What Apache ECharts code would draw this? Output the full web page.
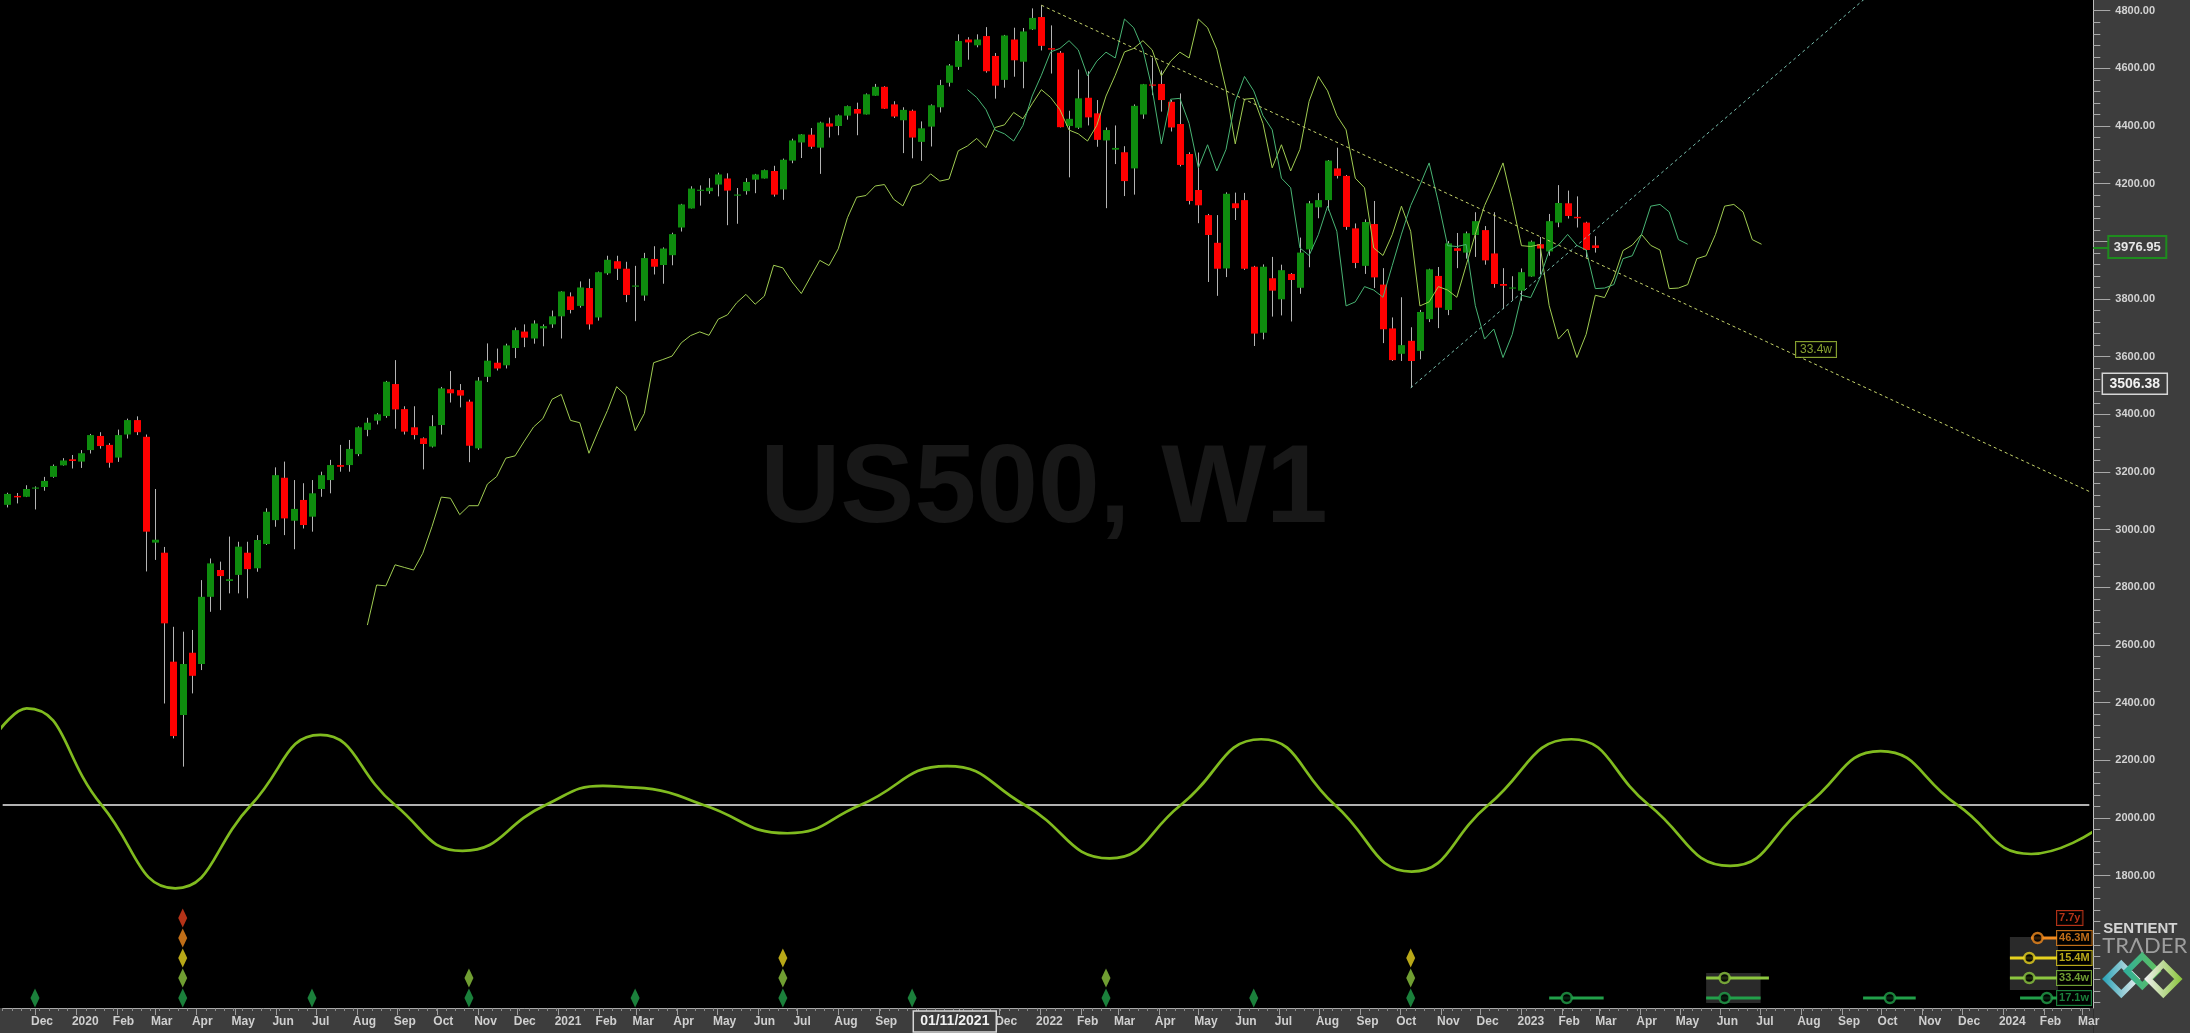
<!DOCTYPE html>
<html><head><meta charset="utf-8">
<script src="https://cdn.jsdelivr.net/npm/echarts@6/dist/echarts.min.js"></script>
<style>html,body{margin:0;padding:0;background:#000;}#c{width:2190px;height:1033px;}</style>
</head><body><div id="c"></div>
<script>
// ---------------- DATA ----------------
const firstWeek = Date.UTC(2019, 10, 10);   // first weekly bar (Sunday)
const weekCount = 226;                       // bars incl. projection area

const opens = [3086,3117,3114,3144,3148,3183,3223,3244,3236,3276,
3325,3294,3250,3330,3380,3322,2955,2920,2542,2357,
2573,2534,2767,2860,2822,2843,2920,2866,2950,3033,
3180,3031,3103,3045,3141,3172,3224,3224,3262,3346,
3378,3394,3505,3418,3355,3317,3288,3363,3487,3484,
3444,3282,3530,3579,3570,3630,3687,3663,3698,3712,
3740,3809,3776,3838,3736,3889,3931,3905,3842,3812,
3939,3918,3952,4048,4114,4175,4174,4197,4218,4158,
4174,4214,4218,4244,4180,4280,4343,4370,4325,4409,
4400,4436,4459,4440,4505,4536,4475,4420,4453,4345,
4398,4465,4550,4605,4700,4680,4712,4643,4560,4700,
4623,4735,4778,4670,4654,4400,4394,4498,4444,4350,
4318,4309,4253,4440,4542,4546,4484,4407,4303,4178,
4091,3995,3906,4132,4143,3912,3683,3872,3799,3887,
3839,3972,4118,4143,4253,4227,4045,3915,4060,3850,
3698,3610,3655,3620,3730,3880,3762,3976,3961,4022,
4039,3958,3852,3836,3829,3878,3990,3965,4065,4132,
4085,4065,3986];
const closes = [3124,3112,3141,3146,3169,3221,3240,3238,3265,3328,
3290,3232,3328,3380,3338,2993,2965,2675,2284,2534,
2493,2767,2883,2839,2828,2941,2863,2964,3062,3189,
3039,3072,3016,3126,3189,3224,3218,3280,3355,3371,
3400,3513,3417,3340,3328,3297,3359,3490,3473,3465,
3291,3517,3586,3559,3639,3692,3666,3715,3706,3740,
3826,3762,3840,3712,3893,3936,3905,3814,3845,3942,
3912,3975,4025,4128,4183,4179,4186,4232,4176,4161,
4206,4232,4247,4162,4283,4350,4371,4328,4412,4398,
4437,4469,4443,4510,4536,4460,4433,4456,4360,4392,
4472,4542,4610,4695,4690,4700,4590,4540,4714,4628,
4728,4775,4678,4665,4396,4425,4496,4430,4352,4386,
4324,4209,4470,4545,4540,4490,4395,4265,4140,4125,
4022,3905,4165,4115,3905,3680,3912,3829,3900,3866,
3961,4132,4143,4280,4227,4050,3925,4067,3875,3695,
3588,3640,3585,3755,3903,3770,3993,3967,4028,4070,
3934,3852,3846,3840,3893,3999,3975,4070,4133,4088,
4080,3970,3977];
const lows = [3077,3091,3113,3070,3135,3180,3222,3212,3214,3264,
3281,3215,3235,3316,3328,2855,2895,2397,2276,2178,
2432,2513,2715,2721,2779,2779,2762,2854,2947,3010,
2981,2932,3004,2993,3114,3126,3201,3201,3255,3324,
3365,3388,3350,3330,3313,3209,3285,3330,3441,3424,
3234,3277,3512,3552,3559,3595,3633,3645,3636,3700,
3663,3750,3770,3694,3725,3884,3866,3789,3723,3794,
3885,3853,3917,4034,4114,4124,4165,4156,4056,4061,
4162,4167,4218,4155,4144,4271,4289,4321,4234,4360,
4368,4422,4368,4440,4505,4459,4428,4306,4288,4279,
4329,4447,4537,4595,4630,4673,4585,4495,4533,4571,
4531,4733,4662,4582,4395,4222,4390,4402,4328,4115,
4268,4157,4162,4425,4507,4450,4381,4260,4128,4063,
3859,3811,3876,4074,3901,3637,3660,3739,3743,3722,
3818,3910,4080,4107,4218,4040,3907,3887,3838,3647,
3585,3585,3492,3591,3720,3699,3744,3907,3940,3946,
3919,3839,3765,3797,3794,3877,3885,3950,4049,4079,
4048,3944,3961];
const highs = [3128,3127,3154,3150,3183,3226,3248,3259,3276,3332,
3338,3300,3347,3385,3393,3330,3141,2940,2663,2646,
2652,2825,2900,2889,2976,2958,2958,2981,3074,3216,
3236,3172,3161,3172,3201,3242,3294,3311,3358,3388,
3404,3516,3588,3428,3428,3320,3397,3495,3550,3505,
3451,3529,3646,3628,3645,3701,3712,3726,3712,3760,
3827,3823,3861,3870,3895,3950,3950,3929,3915,3960,
3983,3979,4030,4130,4191,4194,4219,4238,4236,4185,
4219,4234,4249,4262,4287,4356,4372,4393,4415,4429,
4440,4471,4481,4513,4546,4538,4486,4465,4457,4416,
4475,4560,4615,4718,4708,4718,4743,4653,4716,4741,
4740,4808,4819,4749,4660,4453,4596,4590,4490,4395,
4402,4330,4475,4546,4637,4593,4490,4513,4309,4308,
4095,4091,4170,4169,4168,3915,3920,3946,3919,3890,
4013,4140,4167,4282,4325,4230,4062,4076,4140,3907,
3736,3806,3702,3762,3905,3911,4001,4029,4034,4101,
4053,4101,3907,3879,3906,4003,4015,4095,4195,4176,
4156,4068,4018];

// FLD lines (displaced median price)
const fldMedian = [2669,2808,2805,2878,2869,2860,2918,3011,3113,3109,
3052,3083,3083,3158,3184,3248,3256,3307,3356,3385,
3452,3469,3379,3371,3265,3341,3413,3496,3465,3343,
3403,3579,3590,3602,3648,3673,3686,3674,3730,3745,
3787,3816,3782,3810,3917,3908,3859,3819,3877,3934,
3916,3974,4082,4153,4159,4192,4197,4146,4123,4191,
4201,4234,4209,4216,4314,4331,4357,4325,4395,4404,
4447,4425,4477,4526,4499,4457,4386,4373,4348,4402,
4504,4576,4657,4669,4696,4664,4574,4625,4656,4636,
4771,4741,4666,4528,4338,4493,4496,4409,4255,4335,
4244,4319,4486,4572,4522,4436,4387,4219,4186,3977,
3951,4023,4122,4035,3776,3790,3843,3831,3806,3916,
4025,4124,4195,4272,4135,3985,3982,3989,3777,3661,
3696,3597,3677,3813,3805,3873,3968,3987,4024,3986,
3970,3836,3838,3850,3940,3950,4023,4122,4128,4102,
4006,3990];
const fld33Start = 39;   // week where the 33.4w FLD begins
const fld17Start = 104;  // week where the 17.1w FLD begins
const fld17Skip = 73;    // first fldMedian entry used by the 17.1w FLD

// Cycle oscillator (bottom)
const oscWeeks  = [-0.8,2.1,10.2,18.2,26.4,33.9,42.0,49.3,58.3,64.5,67.0,69.9,75.4,84.5,92.4,101.8,110.2,119.4,127.1,135.8,143.8,152.1,160.4,169.4,177.8,186.6,194.9,202.9,211.2,219.2,225.9];
const oscValues = [2307,2380,2045,1756,2045,2288,2045,1886,2045,2111,2107,2100,2045,1947,2045,2180,2045,1860,2045,2273,2045,1814,2045,2273,2045,1834,2045,2232,2045,1875,1952];
const oscZero = 2045;

// Trend lines
const trendDownWeeks = [112, 226], trendDownValues = [4819, 3125];
const trendUpWeeks = [152, 202], trendUpValues = [3492, 4864];

// Cycle trough markers (diamonds)
const troughWeeks = [3,19,33,50,68,84,98,119,135,152];
const troughDepth = [1,5,1,2,1,3,1,2,1,3];

// Cycle names / colours
const cycleNames  = ['17.1w','33.4w','15.4M','46.3M','7.7y'];
const cycleColors = ['#22a04a','#8cc63f','#e6d21e','#f08a1e','#e2401e'];
// Phasing projections (week ranges and circle weeks) per cycle level
const phaseSegs = [
  [[167.0,172.9],[184.0,189.9],[201.0,206.7],[218.0,222.0]],
  [[184.0,190.8],[216.9,222.0]],
  [[216.9,222.0]],
  [[219.2,222.0]],
  []
];
const phaseCircles = [[168.9,186.0,203.9,220.9],[186.0,219.0],[219.0],[219.9],[]];
const cycleLabelWeek = 222.0;
const fldLabel = {week:195.9, value:3625, text:'33.4w'};

// Axis tick labels
const priceTicks = [1800,2000,2200,2400,2600,2800,3000,3200,3400,3600,3800,4000,4200,4400,4600,4800];
const monthLabels = ['Dec','2020','Feb','Mar','Apr','May','Jun','Jul','Aug','Sep','Oct','Nov','Dec',
'2021','Feb','Mar','Apr','May','Jun','Jul','Aug','Sep','','','Dec',
'2022','Feb','Mar','Apr','May','Jun','Jul','Aug','Sep','Oct','Nov','Dec',
'2023','Feb','Mar','Apr','May','Jun','Jul','Aug','Sep','Oct','Nov','Dec',
'2024','Feb','Mar'];
const currentPrice = 3976.95;
const cursorPrice = 3506.38;
const cursorWeek = 103;
const cursorDate = '01/11/2021';
const symbolTitle = 'US500, W1';

// ---------------- BUILD ----------------
const yMin = 1340.8, yMax = 4837.1;
const DAY = 86400000;
const weekCats = [];
for (let i = 0; i < weekCount; i++) { const d = new Date(firstWeek + i*7*DAY); weekCats.push(d.toISOString().slice(0,10)); }
const candleData = opens.map((o,i)=>[i,o,closes[i],lows[i],highs[i]]);
const monthTickPos = [], monthLabelPos = [], labelMap = {};
monthLabels.forEach((t,k)=>{
  const w = (Date.UTC(2019, 11 + k, 1) - firstWeek) / (7*DAY);
  monthTickPos.push(w);
  const p = +(w - 0.43).toFixed(4);
  monthLabelPos.push(p); labelMap[p.toFixed(4)] = t;
});
const minorTicks = []; for (let v = 1360; v <= 4800; v += 40) minorTicks.push(v);

const fld33 = fldMedian.map((v,k)=>[fld33Start + k, v]);
const fld17 = fldMedian.slice(fld17Skip).map((v,k)=>[fld17Start + k, v]);
const osc = oscWeeks.map((w,i)=>[w, oscValues[i]]);

const BULL = '#0e8c0e', BEAR = '#ff0000', WICK = '#b4b4b4';
const series = [];
series.push({
  type:'custom', name:'price', xAxisIndex:0, yAxisIndex:0, z:2, clip:true,
  data: candleData, encode:{x:0, y:[1,2,3,4]},
  renderItem(params, api){
    const i = api.value(0), o = api.value(1), c = api.value(2), l = api.value(3), h = api.value(4);
    const pO = api.coord([i,o]), pC = api.coord([i,c]), pL = api.coord([i,l]), pH = api.coord([i,h]);
    const x = Math.round(pO[0]);
    const bw = 7;
    let top = Math.min(pO[1],pC[1]), bot = Math.max(pO[1],pC[1]);
    if (bot - top < 1) { top = Math.round(top) - 0.5; bot = top + 1.2; }
    const col = c >= o ? BULL : BEAR;
    return {type:'group', children:[
      {type:'line', shape:{x1:x+0.5, y1:pH[1], x2:x+0.5, y2:pL[1]}, style:{stroke:WICK, lineWidth:1}},
      {type:'rect', shape:{x:x-3, y:top, width:bw, height:bot-top}, style:{fill:col}}
    ]};
  }
});
const lineBase = {type:'line', xAxisIndex:1, showSymbol:false, symbol:'none', clip:true, silent:true};
series.push(Object.assign({}, lineBase, {yAxisIndex:0, z:3, data:fld33, lineStyle:{color:'#a0cc52', width:1}}));
series.push(Object.assign({}, lineBase, {yAxisIndex:0, z:3, data:fld17, lineStyle:{color:'#48b474', width:1}}));
series.push(Object.assign({}, lineBase, {yAxisIndex:0, z:3, data:trendDownWeeks.map((w,i)=>[w,trendDownValues[i]]), lineStyle:{color:'#c6d46c', width:1, type:[3,3]}}));
series.push(Object.assign({}, lineBase, {yAxisIndex:0, z:3, data:trendUpWeeks.map((w,i)=>[w,trendUpValues[i]]), lineStyle:{color:'#78bfae', width:1, type:[3,3]}}));
series.push(Object.assign({}, lineBase, {yAxisIndex:0, z:3, data:[[-0.5,oscZero],[weekCount-0.5,oscZero]], lineStyle:{color:'#ececec', width:1.5}}));
series.push(Object.assign({}, lineBase, {yAxisIndex:0, z:4, data:osc, smooth:0.5, lineStyle:{color:'#80bb1f', width:2.7}}));
// highlight boxes behind phasing
series.push(Object.assign({}, lineBase, {yAxisIndex:2, z:1, data:[], markArea:{silent:true, itemStyle:{color:'#2a2a2a'}, data:[
  [{xAxis:184.0, yAxis:0.25},{xAxis:189.9, yAxis:1.75}],
  [{xAxis:216.9, yAxis:0.9},{xAxis:222.1, yAxis:3.55}]
]}}));
// diamonds
for (let lvl = 0; lvl < 5; lvl++) {
  series.push({type:'scatter', xAxisIndex:1, yAxisIndex:2, z:5, silent:true, symbol:'diamond', symbolSize:[9,19],
    itemStyle:{color:cycleColors[lvl]},
    data: troughWeeks.filter((w,i)=>troughDepth[i] > lvl).map(w=>[w, 0.5 + lvl])});
}
// phasing segments, circles and legend boxes
for (let lvl = 0; lvl < 5; lvl++) {
  phaseSegs[lvl].forEach(s=>{
    series.push(Object.assign({}, lineBase, {yAxisIndex:2, z:5, data:[[s[0],0.5+lvl],[s[1],0.5+lvl]], lineStyle:{color:cycleColors[lvl], width:3}}));
  });
  if (phaseCircles[lvl].length) series.push({type:'scatter', xAxisIndex:1, yAxisIndex:2, z:6, silent:true, symbol:'circle', symbolSize:10,
    itemStyle:{color:'#000', borderColor:cycleColors[lvl], borderWidth:2.5},
    data: phaseCircles[lvl].map(w=>[w, 0.5+lvl])});
  series.push({type:'scatter', xAxisIndex:1, yAxisIndex:2, z:7, silent:true, symbolSize:0.1, itemStyle:{color:'rgba(0,0,0,0)'},
    data:[[cycleLabelWeek, 0.5+lvl]],
    label:{show:true, position:'right', distance:0, formatter:cycleNames[lvl], color:cycleColors[lvl], fontSize:11, fontWeight:'bold',
      fontFamily:'Liberation Sans, Arial, sans-serif', backgroundColor:'#000', borderColor:cycleColors[lvl], borderWidth:1, padding:[2,2,1,2]}});
}
series.push({type:'scatter', xAxisIndex:1, yAxisIndex:0, z:7, silent:true, symbolSize:0.1, itemStyle:{color:'rgba(0,0,0,0)'},
  data:[[fldLabel.week, fldLabel.value]],
  label:{show:true, position:'inside', formatter:fldLabel.text, color:'#a8c83c', fontSize:12, fontFamily:'Liberation Sans, Arial, sans-serif',
    backgroundColor:'#000', borderColor:'#a8c83c', borderWidth:1, padding:[2,4,1,4]}});

const FONT = 'Liberation Sans, Arial, sans-serif';
const option = {
  backgroundColor:'#000', animation:false,
  grid:{left:2.68, right:100.7, top:0, bottom:25},
  xAxis:[
    {type:'category', data:weekCats, boundaryGap:true, position:'bottom',
     axisLine:{show:true, onZero:false, lineStyle:{color:'#a8a8a8'}}, axisTick:{show:true, interval:0, length:3, lineStyle:{color:'#8c8c8c'}},
     axisLabel:{show:false}, splitLine:{show:false}},
    {type:'value', min:-0.5, max:weekCount-0.5, position:'bottom',
     axisLine:{show:false, onZero:false}, axisTick:{show:true, customValues:monthTickPos, length:7, lineStyle:{color:'#9c9c9c'}},
     axisLabel:{show:true, customValues:monthLabelPos, align:'left', margin:8, color:'#cfcfcf', fontSize:12, fontWeight:'bold',
       fontFamily:'Liberation Sans Narrow, Arial Narrow, sans-serif',
       formatter:(v,idx)=>{ const t = labelMap[(+v).toFixed(4)]; return t !== undefined ? t : (monthLabels[idx] || ''); }},
     splitLine:{show:false}}
  ],
  yAxis:[
    {type:'value', position:'right', offset:4, min:yMin, max:yMax,
     axisLine:{show:true, onZero:false, lineStyle:{color:'#bdbdbd'}},
     axisTick:{show:true, customValues:priceTicks, length:17, lineStyle:{color:'#a8a8a8'}},
     axisLabel:{show:true, customValues:priceTicks, formatter:v=>(+v).toFixed(2), margin:22, color:'#d2d2d2', fontSize:11, fontWeight:'bold', fontFamily:FONT},
     splitLine:{show:false}},
    {type:'value', position:'right', offset:4, min:yMin, max:yMax,
     axisLine:{show:false, onZero:false}, axisTick:{show:true, customValues:minorTicks, length:7, lineStyle:{color:'#a8a8a8'}},
     axisLabel:{show:false}, splitLine:{show:false}},
    {type:'value', min:0, max:50.4, show:false, axisLine:{show:false, onZero:false}, axisTick:{show:false}, axisLabel:{show:false}, splitLine:{show:false}}
  ],
  series: series
};
const chart = echarts.init(document.getElementById('c'), null, {width:2190, height:1033});
chart.setOption(option);

// ---------- annotations positioned through the axes ----------
const gx = v => chart.convertToPixel({xAxisIndex:1}, v);
const gy = v => chart.convertToPixel({yAxisIndex:0}, v);
const plotRight = gx(weekCount - 0.5);
const axisX = plotRight + 4;
const plotBottom = gy(yMin);
const W = 2190, H = 1033;
const pCur = gy(currentPrice), pCursor = gy(cursorPrice), xCursor = gx(cursorWeek) - 4;
const els = [
  {type:'rect', z:-10, silent:true, shape:{x:axisX, y:0, width:W-axisX, height:H}, style:{fill:'#3d3d3d'}},
  {type:'rect', z:-10, silent:true, shape:{x:0, y:plotBottom, width:axisX, height:H-plotBottom}, style:{fill:'#3d3d3d'}},
  {type:'text', z:-5, silent:true, x:1044, y:491, style:{text:symbolTitle, font:'bold 111px Liberation Sans, Arial, sans-serif', fill:'#181818', align:'center', verticalAlign:'middle'}},
  // current price box
  {type:'line', z:100, silent:true, shape:{x1:axisX, y1:pCur, x2:axisX+15, y2:pCur}, style:{stroke:'#1e8c1e', lineWidth:2}},
  {type:'rect', z:100, silent:true, shape:{x:axisX+15, y:pCur-12, width:58, height:22}, style:{fill:'#3d3d3d', stroke:'#1e8c1e', lineWidth:2}},
  {type:'text', z:101, silent:true, x:axisX+44, y:pCur-0.5, style:{text:currentPrice.toFixed(2), font:'bold 13px Liberation Sans, Arial, sans-serif', fill:'#e6e6e6', align:'center', verticalAlign:'middle'}},
  // cursor price box
  {type:'rect', z:100, silent:true, shape:{x:axisX+9, y:pCursor-10.5, width:65, height:21}, style:{fill:'#3d3d3d', stroke:'#d6d6d6', lineWidth:1.5}},
  {type:'text', z:101, silent:true, x:axisX+41.5, y:pCursor, style:{text:cursorPrice.toFixed(2), font:'bold 14px Liberation Sans, Arial, sans-serif', fill:'#f2f2f2', align:'center', verticalAlign:'middle'}},
  // cursor date box
  {type:'rect', z:100, silent:true, shape:{x:xCursor-41, y:plotBottom+3, width:83, height:21}, style:{fill:'#3d3d3d', stroke:'#d6d6d6', lineWidth:1.5}},
  {type:'text', z:101, silent:true, x:xCursor+0.5, y:plotBottom+13.5, style:{text:cursorDate, font:'bold 14px Liberation Sans, Arial, sans-serif', fill:'#f2f2f2', align:'center', verticalAlign:'middle'}},
  // logo
  {type:'text', z:100, silent:true, x:axisX+10, y:921, style:{text:'SENTIENT', font:'bold 15px Liberation Sans, Arial, sans-serif', fill:'#d4d4d4', align:'left', verticalAlign:'top'}},
  {type:'text', z:100, silent:true, x:axisX+9, y:935, style:{text:'TR\u039BDER', font:'22px Lato, Liberation Sans, sans-serif', fill:'#9e9e9e', align:'left', verticalAlign:'top'}}
];
const lx = axisX + 49, ly = 977;
const dia = (cx, cy, r, c1, c2) => ({type:'polygon', z:100, silent:true,
  shape:{points:[[cx,cy-r],[cx+r,cy],[cx,cy+r],[cx-r,cy]]},
  style:{fill:null, stroke:{type:'linear', x:0, y:0, x2:1, y2:0, colorStops:[{offset:0,color:c1},{offset:1,color:c2}]}, lineWidth:6, lineJoin:'miter'}});
els.push(dia(lx-21, ly+2, 15, '#2aa3b8', '#f0f0f0'));
els.push(dia(lx, ly-6, 15, '#2fae9a', '#63c05a'));
els.push(dia(lx+21, ly+2, 15, '#eeeeee', '#8cc63f'));
chart.setOption({graphic:{elements:els}});
</script>
</body></html>
